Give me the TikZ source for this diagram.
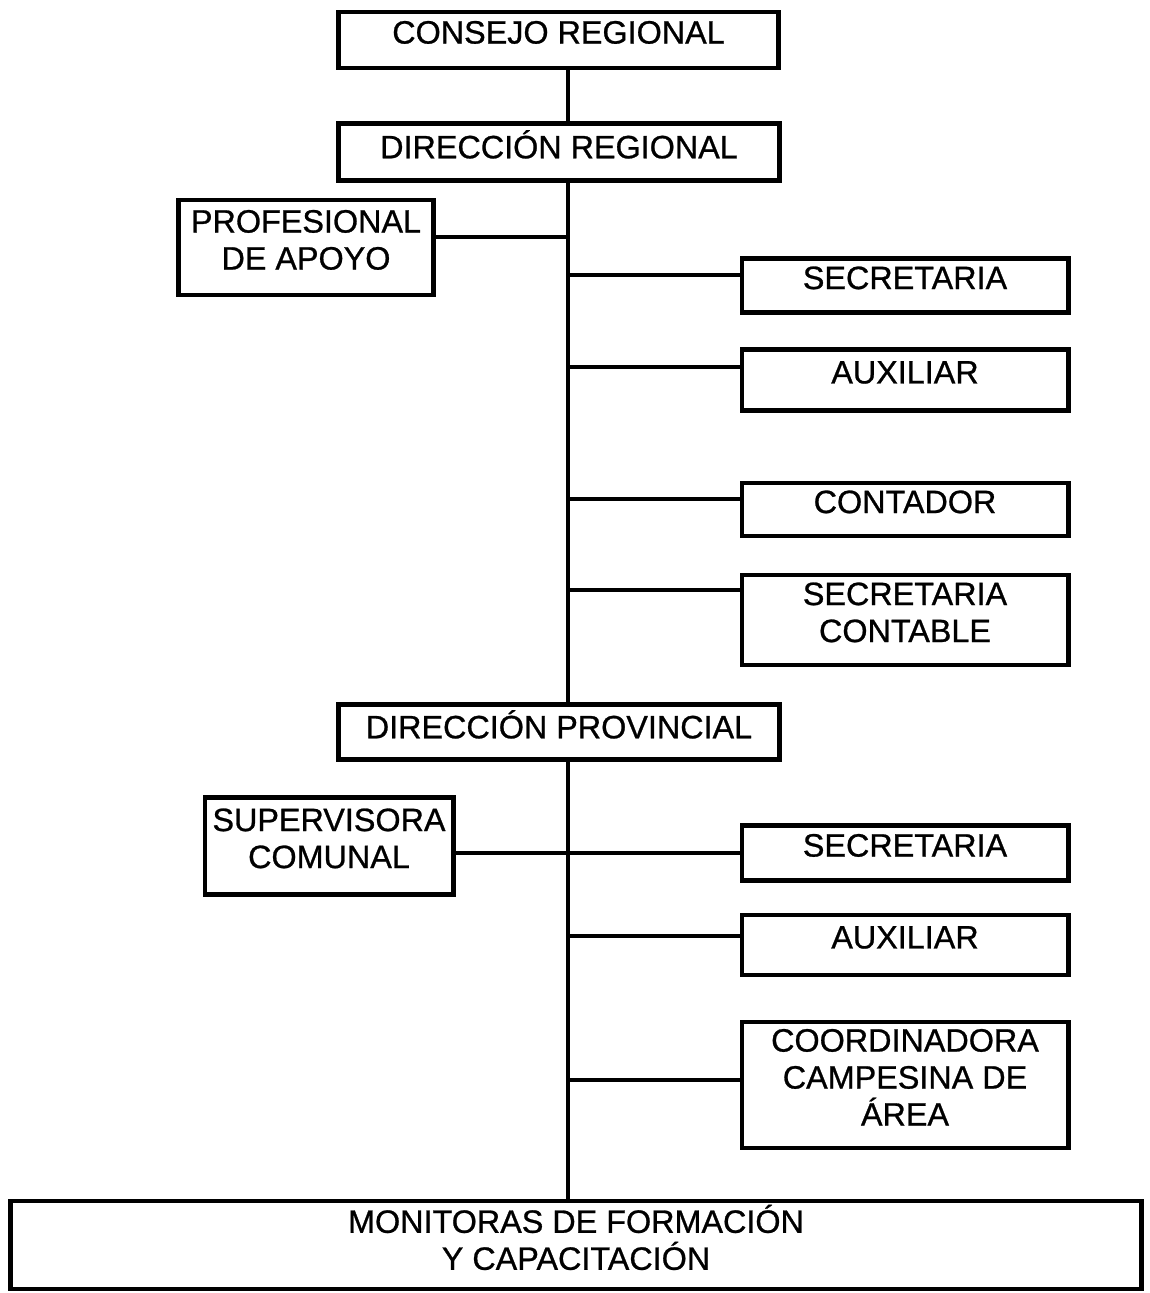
\documentclass[tikz,border=0pt]{standalone}
\usepackage{fontspec}
\setmainfont[FakeBold=0.8]{Liberation Sans}

\tikzset{
  box/.style={draw, line width=3.5pt, align=center, inner sep=0pt,
    font=\fontsize{23}{26.3}\selectfont,
    execute at end node={\rule[-11pt]{0pt}{0pt}}},
  link/.style={line width=2.8pt},
}

\begin{document}
\begin{tikzpicture}[x=0.025cm, y=-0.025cm]
        \useasboundingbox (0,0) rectangle (1149,1293);
        \node[box, minimum width=11cm, minimum height=1.4cm] (consejo) at (558.5,40) {CONSEJO REGIONAL};
        \node[box, minimum width=11.025cm, minimum height=1.425cm] (dirreg) at (559,152) {DIRECCIÓN REGIONAL};
        \node[box, minimum width=6.375cm, minimum height=2.375cm] (apoyo) at (306,247.5) {PROFESIONAL\\DE APOYO};
        \node[box, minimum width=8.15cm, minimum height=1.35cm] (secr1) at (905,285.5) {SECRETARIA};
        \node[box, minimum width=8.15cm, minimum height=1.525cm] (aux1) at (905,380) {AUXILIAR};
        \node[box, minimum width=8.15cm, minimum height=1.325cm] (contador) at (905,509.5) {CONTADOR};
        \node[box, minimum width=8.15cm, minimum height=2.25cm] (secrcont) at (905,620) {SECRETARIA\\CONTABLE};
        \node[box, minimum width=11cm, minimum height=1.375cm] (dirprov) at (559,732) {DIRECCIÓN PROVINCIAL};
        \node[box, minimum width=6.2cm, minimum height=2.425cm] (super) at (329,846) {SUPERVISORA\\COMUNAL};
        \node[box, minimum width=8.15cm, minimum height=1.375cm] (secr2) at (905,853) {SECRETARIA};
        \node[box, minimum width=8.15cm, minimum height=1.5cm] (aux2) at (905,945) {AUXILIAR};
        \node[box, minimum width=8.15cm, minimum height=3.15cm] (coord) at (905,1085) {COORDINADORA\\CAMPESINA DE\\ÁREA};
        \node[box, minimum width=28.25cm, minimum height=2.2cm] (monit) at (576,1245) {MONITORAS DE FORMACIÓN\\Y CAPACITACIÓN};

        % tronco vertical
        \coordinate (trunk) at (568,0);
        \draw[link] (consejo.south -| trunk) -- (dirreg.north -| trunk);
        \draw[link] (dirreg.south -| trunk) -- (dirprov.north -| trunk);
        \draw[link] (dirprov.south -| trunk) -- (monit.north -| trunk);

        % ramas
        \foreach \name/\yy in {apoyo/237, super/853}
            \draw[link] (568,\yy) coordinate (j-\name) -- (j-\name -| \name.east);
        \foreach \name/\yy in {secr1/275, aux1/367, contador/499, secrcont/590, secr2/853, aux2/936, coord/1080}
            \draw[link] (568,\yy) coordinate (j-\name) -- (j-\name -| \name.west);
    \end{tikzpicture}
\end{document}
